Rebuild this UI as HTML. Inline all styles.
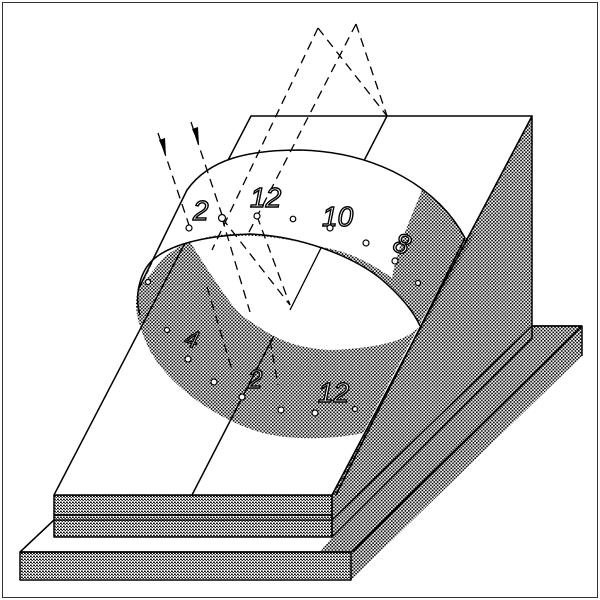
<!DOCTYPE html>
<html><head><meta charset="utf-8"><style>
html,body{margin:0;padding:0;background:#fff;}
svg{display:block;}
text{font-family:"Liberation Sans",sans-serif;font-style:italic;fill:#fff;stroke:#000;stroke-width:1.4;}
</style></head><body>
<svg width="600" height="600" viewBox="0 0 600 600" xmlns="http://www.w3.org/2000/svg">
<defs>
<pattern id="st" width="3.4" height="3.4" patternUnits="userSpaceOnUse">
<circle cx="0.8" cy="0.8" r="0.95" fill="#000"/><circle cx="2.5" cy="2.5" r="0.9" fill="#000"/>
</pattern>
<pattern id="sh" width="3" height="3" patternUnits="userSpaceOnUse">
<rect x="0" y="0.6" width="1.8" height="1.4" fill="#000"/><rect x="1.6" y="2" width="1.2" height="1" fill="#000"/>
</pattern>
</defs>
<rect x="0" y="0" width="600" height="600" fill="#fff"/>
<rect x="2.5" y="2.5" width="595" height="595" fill="none" stroke="#333" stroke-width="1"/>
<g stroke="#000" stroke-width="1.5" stroke-linejoin="round">
<polygon points="20,552 54,520 332,520 532,326 582,326 351,552" fill="#fff"/>
<polygon points="332,537 532,338 532,326 582,326 351,552 320,552" fill="url(#st)" stroke="none"/>
<line x1="532" y1="326" x2="582" y2="326"/>
<line x1="582" y1="326" x2="353" y2="552"/>
<line x1="20" y1="552" x2="54" y2="520"/>
<polygon points="20,552 351,552 351,580 20,580" fill="url(#sh)"/>
<polygon points="351,552 582,326 582,356 351,580" fill="url(#st)" stroke="none"/>
<line x1="582" y1="326" x2="582" y2="356"/>
<polygon points="532,116 532,338 332,537 332,495" fill="url(#st)"/>
<rect x="54" y="495" width="278" height="20" fill="url(#sh)"/>
<rect x="54" y="515" width="278" height="22" fill="url(#sh)"/>
<polygon points="251,116 532,116 332,495 54,495" fill="#fff"/>
<line x1="387" y1="116" x2="192" y2="495"/>
<polygon points="465,238 476,232 332,495 336,495" fill="url(#st)" stroke="none"/>
<path d="M138,290 L187,190 C210,158 250,150 300,150 C380,152 440,190 465,238 L363,433 C330,440 290,440 263,433 C215,420 160,380 145,340 C136,318 134,305 138,290 Z" fill="url(#st)" stroke="none"/>
<path d="M143,283 L187,190 C210,158 250,150 300,150 C360,151 400,170 422,190 C410,220 398,245 392,278 C370,262 345,250 320,247 C290,238 260,232 230,234 C200,236 175,245 160,262 Z" fill="#fff" stroke="none"/>
<path d="M190,242 C230,232 280,234 320,248 C365,262 400,285 420,325 C410,340 380,348 330,350 C300,348 285,342 272,335 C255,325 245,318 238,312 C220,290 205,265 190,242 Z" fill="#fff" stroke="none"/>
<path d="M138,290 L187,190 C210,158 250,150 300,150 C380,152 440,190 465,238" fill="none"/>
<path d="M140,315 C134,295 140,270 155,258 C170,246 200,236 250,234 C300,236 350,255 380,278 C400,295 413,310 420,326" fill="none"/>
<line x1="465" y1="238" x2="336" y2="495"/>
<line x1="321" y1="248" x2="290" y2="310" stroke-width="1.3"/>
</g>
<g stroke="#000" stroke-width="1.3" fill="none" stroke-dasharray="9,6">
<line x1="318" y1="28" x2="387" y2="116"/>
<line x1="356" y1="24" x2="387" y2="116"/>
<line x1="318" y1="28" x2="212" y2="250"/>
<line x1="356" y1="24" x2="247" y2="236"/>
<line x1="158" y1="133" x2="190" y2="228"/>
<line x1="191" y1="122" x2="222" y2="215"/>
<line x1="222" y1="218" x2="290" y2="305"/>
<line x1="257" y1="216" x2="290" y2="305"/>
<line x1="222" y1="218" x2="250" y2="312"/>
<line x1="207" y1="287" x2="232" y2="370"/>
<line x1="270" y1="340" x2="278" y2="385"/>
</g>
<g fill="#000">
<polygon points="166,156 159,140 165,138"/>
<polygon points="199,145 192,129 198,127"/>
</g>
<g font-size="28">
<text x="193" y="220">2</text>
<text x="250" y="207">12</text>
<text x="322" y="226">10</text>
<text x="394" y="254" transform="rotate(20 404 245)">8</text>
<text x="185" y="348" font-size="24" transform="rotate(15 195 340)">4</text>
<text x="248" y="388" font-size="26">2</text>
<text x="318" y="402">12</text>
</g>
<g fill="#fff" stroke="#000" stroke-width="1.2">
<circle cx="189" cy="228" r="3"/><circle cx="222" cy="218" r="3.5"/><circle cx="257" cy="216" r="3"/>
<circle cx="293" cy="219" r="2.8"/><circle cx="330" cy="228" r="3"/><circle cx="366" cy="243" r="3"/>
<circle cx="395" cy="261" r="3"/><circle cx="418" cy="283" r="2.5"/><circle cx="148" cy="282" r="2.5"/>
<circle cx="167" cy="330" r="2.5"/><circle cx="188" cy="359" r="3"/><circle cx="214" cy="382" r="3"/>
<circle cx="242" cy="397" r="3"/><circle cx="281" cy="410" r="3"/><circle cx="315" cy="413" r="3"/><circle cx="355" cy="409" r="2.5"/>
</g>
</svg>
</body></html>
